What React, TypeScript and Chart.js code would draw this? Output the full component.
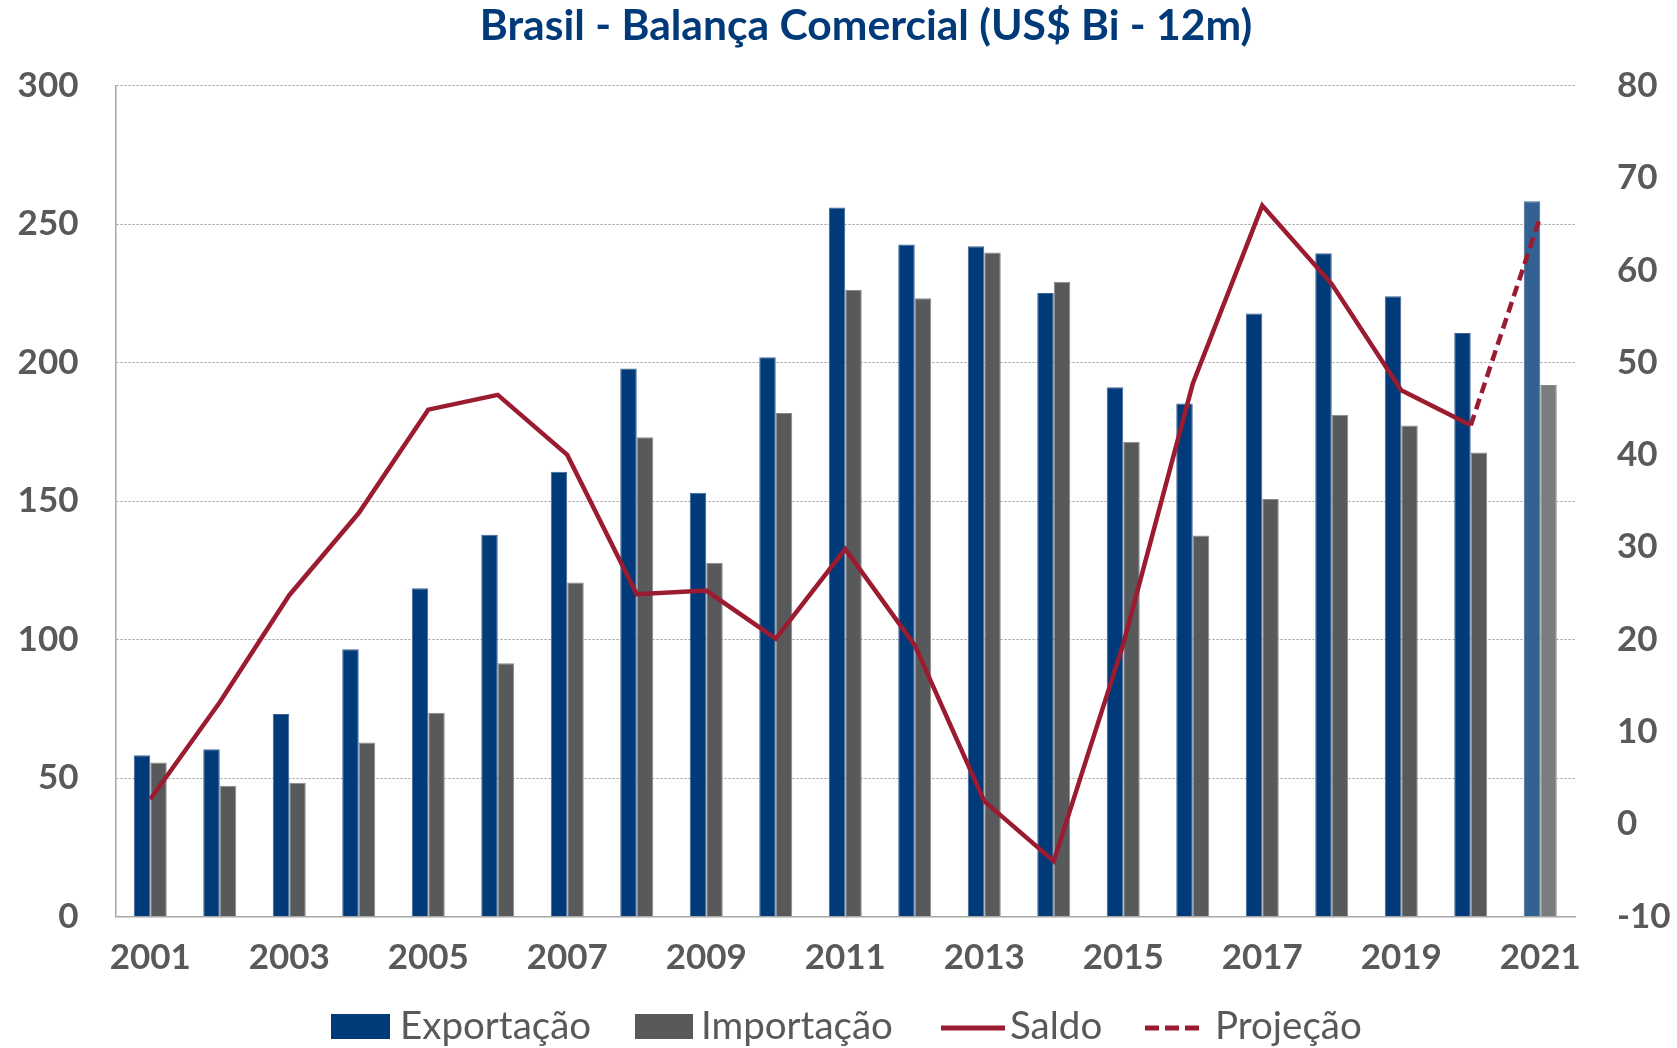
import React, { useEffect, useRef } from "react";
import { Chart, registerables } from "chart.js";

Chart.register(...registerables);

const categories = [
  "2001", "2002", "2003", "2004", "2005", "2006", "2007", "2008", "2009", "2010",
  "2011", "2012", "2013", "2014", "2015", "2016", "2017", "2018", "2019", "2020", "2021",
];
const exportacao = [58.2, 60.4, 73.1, 96.5, 118.5, 137.8, 160.6, 197.9, 153.0, 201.9, 256.0, 242.6, 242.0, 225.1, 191.1, 185.2, 217.7, 239.5, 223.9, 210.7, 258.2];
const importacao = [55.6, 47.2, 48.3, 62.8, 73.6, 91.4, 120.6, 173.0, 127.7, 181.8, 226.2, 223.2, 239.7, 229.2, 171.4, 137.6, 150.7, 181.2, 177.3, 167.5, 191.9];
const saldo = [2.7, 13.2, 24.8, 33.7, 44.9, 46.5, 40.0, 24.9, 25.3, 20.1, 29.8, 19.4, 2.5, -4.0, 19.5, 47.7, 67.0, 58.5, 47.0, 43.2, null];
const projecao = [null, null, null, null, null, null, null, null, null, null, null, null, null, null, null, null, null, null, null, 43.2, 65.8];
const leftTicks = [0, 50, 100, 150, 200, 250, 300];
const rightTicks = [-10, 0, 10, 20, 30, 40, 50, 60, 70, 80];

const TITLE = "Brasil - Balança Comercial (US$ Bi - 12m)";
const BLUE = "#003A78";
const GRAY = "#58595B";
const RED = "#9B1C31";
const TEXT = "#595959";

const W = 1677;
const H = 1048;

const decorPlugin = {
  id: "decor",
  afterDraw(chart: any) {
    const ctx = chart.ctx as CanvasRenderingContext2D;
    ctx.save();
    // title
    ctx.fillStyle = BLUE;
    ctx.font = "bold 42.6px Lato";
    ctx.textAlign = "center";
    ctx.textBaseline = "alphabetic";
    ctx.fillText(TITLE, 866, 40);

    // legend
    const baseY = 1039;
    ctx.font = "38.5px Lato";
    ctx.textAlign = "left";
    ctx.fillStyle = BLUE;
    ctx.fillRect(331, 1014, 59, 25);
    ctx.fillStyle = GRAY;
    ctx.fillRect(635, 1014, 58, 25);

    ctx.strokeStyle = RED;
    ctx.lineWidth = 5;
    ctx.beginPath();
    ctx.moveTo(941, 1028);
    ctx.lineTo(1005, 1028);
    ctx.stroke();

    ctx.setLineDash([14, 6]);
    ctx.beginPath();
    ctx.moveTo(1145, 1028);
    ctx.lineTo(1200, 1028);
    ctx.stroke();
    ctx.setLineDash([]);

    ctx.fillStyle = TEXT;
    ctx.fillText("Exportação", 400, baseY);
    ctx.fillText("Importação", 701, baseY);
    ctx.fillText("Saldo", 1010, baseY);
    ctx.fillText("Projeção", 1215, baseY);
    ctx.restore();
  },
};

export default function App() {
  const canvasRef = useRef<HTMLCanvasElement | null>(null);

  useEffect(() => {
    if (!canvasRef.current) return;
    const n = categories.length;
    const expColors = categories.map((_, i) => (i === n - 1 ? "#336192" : BLUE));
    const impColors = categories.map((_, i) => (i === n - 1 ? "#7B7C7E" : GRAY));
    const expBorders = categories.map((_, i) => (i === n - 1 ? "#3f6a99" : "#3d6597"));
    const impBorders = categories.map((_, i) => (i === n - 1 ? "#888888" : "#8a8a8a"));

    const chart = new Chart(canvasRef.current, {
      type: "bar",
      data: {
        labels: categories,
        datasets: [
          {
            type: "line",
            label: "Saldo",
            data: saldo as any,
            yAxisID: "y1",
            borderColor: RED,
            backgroundColor: RED,
            borderWidth: 4.5,
            pointRadius: 0,
            tension: 0,
            order: 0,
            spanGaps: false,
          },
          {
            type: "line",
            label: "Projeção",
            data: projecao as any,
            yAxisID: "y1",
            borderColor: RED,
            backgroundColor: RED,
            borderWidth: 4.5,
            borderDash: [11, 6],
            pointRadius: 0,
            tension: 0,
            order: 0,
          },
          {
            type: "bar",
            label: "Exportação",
            data: exportacao,
            yAxisID: "y",
            backgroundColor: expColors,
            borderColor: expBorders,
            borderWidth: 1,
            categoryPercentage: 0.475,
            barPercentage: 1.0,
            order: 1,
          },
          {
            type: "bar",
            label: "Importação",
            data: importacao,
            yAxisID: "y",
            backgroundColor: impColors,
            borderColor: impBorders,
            borderWidth: 1,
            categoryPercentage: 0.475,
            barPercentage: 1.0,
            order: 1,
          },
        ],
      },
      options: {
        animation: false,
        responsive: true,
        maintainAspectRatio: false,
        layout: { padding: { top: 85.6, left: 0, right: 0, bottom: 0 } },
        plugins: {
          legend: { display: false },
          title: { display: false },
          tooltip: { enabled: false },
        },
        scales: {
          x: {
            type: "category",
            grid: { display: false, drawTicks: false },
            border: { display: true, color: "#A6A6A6", width: 1.5 },
            ticks: {
              autoSkip: false,
              maxRotation: 0,
              minRotation: 0,
              padding: 20,
              color: TEXT,
              font: { family: "Lato", weight: "bold", size: 35 },
              callback: (_v: any, idx: number) => (idx % 2 === 0 ? categories[idx] : ""),
            },
            afterFit: (scale: any) => {
              scale.height = 131.5;
            },
          },
          y: {
            type: "linear",
            position: "left",
            min: leftTicks[0],
            max: leftTicks[leftTicks.length - 1],
            grid: { display: true, drawTicks: false, color: "#9A9A9A", lineWidth: 1 },
            border: { display: true, color: "#A6A6A6", width: 1.5, dash: [2, 2] },
            afterBuildTicks: (scale: any) => {
              scale.ticks = leftTicks.map((v) => ({ value: v }));
            },
            ticks: {
              padding: 37,
              color: TEXT,
              font: { family: "Lato", weight: "bold", size: 35 },
            },
            afterFit: (scale: any) => {
              scale.width = 115.5;
            },
          },
          y1: {
            type: "linear",
            position: "right",
            min: rightTicks[0],
            max: rightTicks[rightTicks.length - 1],
            grid: { display: false, drawTicks: false },
            border: { display: false },
            afterBuildTicks: (scale: any) => {
              scale.ticks = rightTicks.map((v) => ({ value: v }));
            },
            ticks: {
              padding: 42,
              color: TEXT,
              font: { family: "Lato", weight: "bold", size: 35 },
            },
            afterFit: (scale: any) => {
              scale.width = 102;
            },
          },
        },
      },
      plugins: [decorPlugin],
    });
    return () => chart.destroy();
  }, []);

  return (
    <div style={{ position: "absolute", left: 0, top: 0, width: W, height: H, background: "#fff" }}>
      <canvas ref={canvasRef} />
    </div>
  );
}
